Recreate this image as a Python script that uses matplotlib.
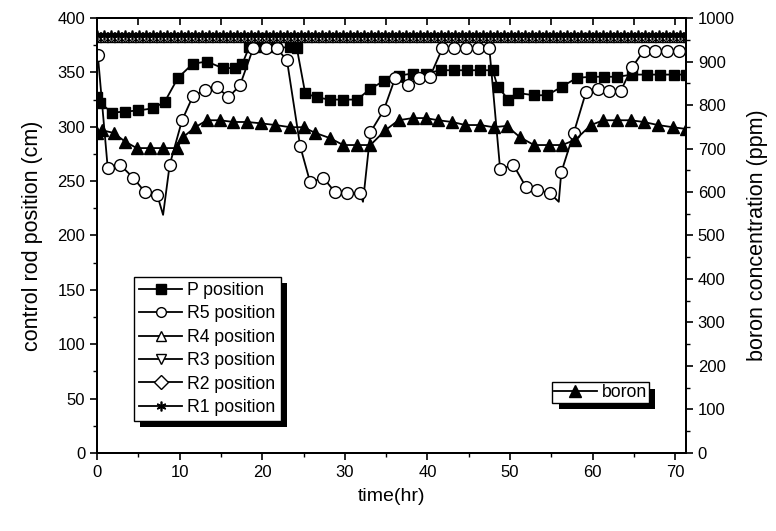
import numpy as np
import matplotlib
matplotlib.use("Agg")
import matplotlib.pyplot as plt
from matplotlib import patheffects as pe
from matplotlib.ticker import MultipleLocator

plt.rcParams['font.family'] = ['Liberation Sans', 'DejaVu Sans']

# ---------------- data ----------------
t_P = [0, 0.4, 1.8, 3.4, 5.0, 6.8, 8.2, 9.8, 11.6, 13.3, 15.2, 16.7, 17.6, 18.4, 20.0, 21.7,
       23.4, 24.2, 25.2, 26.6, 28.2, 29.8, 31.5, 33.1, 34.7, 36.5, 38.2, 39.8, 41.6, 43.2,
       44.8, 46.4, 47.9, 48.5, 49.8, 51.0, 52.9, 54.5, 56.3, 58.1, 59.8, 61.4, 63.0, 64.8,
       66.6, 68.2, 69.8, 71.3]
P_pos = [327, 322, 313, 314, 315, 317, 323, 345, 358, 360, 354, 354, 358, 373, 373, 373,
         373, 372, 331, 327, 325, 325, 325, 335, 342, 347, 349, 349, 352, 352,
         352, 352, 352, 337, 325, 331, 329, 329, 337, 345, 346, 346, 346, 348,
         348, 348, 348, 348]

t_R5 = [0.1, 1.3, 2.8, 4.4, 5.8, 7.3, 8.0, 8.8, 10.3, 11.6, 13.1, 14.5, 15.9, 17.3, 18.9,
        20.4, 21.8, 23.0, 24.6, 25.8, 27.4, 28.8, 30.3, 31.8, 32.2, 33.1, 34.7, 36.1, 37.6,
        39.0, 40.3, 41.8, 43.2, 44.7, 46.1, 47.5, 48.8, 50.4, 51.9, 53.3, 54.8, 55.9, 56.2,
        57.7, 59.2, 60.6, 62.0, 63.4, 64.8, 66.2, 67.6, 69.0, 70.5, 71.3]
R5_pos = [366, 262, 265, 253, 240, 237, 219, 265, 306, 328, 334, 337, 327, 338, 372,
          372, 372, 361, 282, 249, 253, 240, 239, 239, 231, 295, 315, 345, 338,
          345, 346, 372, 372, 372, 372, 372, 261, 265, 245, 242, 239, 231, 258,
          294, 332, 335, 333, 333, 355, 370, 370, 370, 370, 370]
R5_nomark = [6, 24, 41, 53]

t_B = [0, 0.6, 2.0, 3.4, 4.8, 6.4, 8.0, 9.7, 10.4, 11.9, 13.3, 14.9, 16.5, 18.2, 19.8, 21.6,
       23.4, 25.0, 26.4, 28.2, 29.8, 31.5, 33.1, 34.9, 36.5, 38.2, 39.8, 41.3, 43.0, 44.6,
       46.4, 48.0, 49.6, 51.2, 52.9, 54.7, 56.3, 57.9, 59.8, 61.3, 63.0, 64.6, 66.2, 67.9,
       69.7, 71.3]
boron = [735, 742, 736, 716, 701, 701, 701, 701, 726, 749, 765, 765, 761, 761, 758, 754,
         749, 749, 736, 724, 708, 708, 708, 742, 765, 770, 770, 765, 761, 754,
         754, 749, 752, 726, 708, 708, 708, 720, 754, 765, 765, 765, 761, 754,
         749, 745]

# rods fully withdrawn (constant), sampled at the marker spacing seen in the picture
t_top = list(np.arange(0.0, 71.4, 0.85))
R4_level, R3_level, R2_level, R1_level = 382.0, 382.5, 383.0, 384.0
R4_pos = [R4_level] * len(t_top)
R3_pos = [R3_level] * len(t_top)
R2_pos = [R2_level] * len(t_top)
R1_pos = [R1_level] * len(t_top)

# ---------------- plot ----------------
fig = plt.figure(figsize=(7.76, 5.31), dpi=100)
ax = fig.add_axes([0.125, 0.147, 0.759, 0.819])
ax2 = ax.twinx()

lw = 1.3
kw = dict(color='black', lw=lw, mec='black')
h_P, = ax.plot(t_P, P_pos, marker='s', ms=7, mfc='black', label='P position', **kw)
mk = [i for i in range(len(t_R5)) if i not in R5_nomark]
h_R5, = ax.plot(t_R5, R5_pos, marker='o', ms=8.5, mfc='white', markevery=mk,
                label='R5 position', **kw)
h_R4, = ax.plot(t_top, R4_pos, marker='^', ms=6, mfc='white', label='R4 position', **kw)
h_R3, = ax.plot(t_top, R3_pos, marker='v', ms=6, mfc='white', label='R3 position', **kw)
h_R2, = ax.plot(t_top, R2_pos, marker='D', ms=5, mfc='white', label='R2 position', **kw)
h_R1, = ax.plot(t_top, R1_pos, marker=(6, 2, 0), ms=7, mew=1.2, label='R1 position', **kw)

h_B, = ax2.plot(t_B, boron, marker='^', ms=8, mfc='black', label='boron', **kw)

ax.set_xlim(0, 71.3)
ax.set_ylim(0, 400)
ax2.set_ylim(0, 1000)

ax.xaxis.set_major_locator(MultipleLocator(10))
ax.xaxis.set_minor_locator(MultipleLocator(5))
ax.yaxis.set_major_locator(MultipleLocator(50))
ax.yaxis.set_minor_locator(MultipleLocator(25))
ax2.yaxis.set_major_locator(MultipleLocator(100))
ax2.yaxis.set_minor_locator(MultipleLocator(50))

fs_tick = 12
ax.tick_params(axis='both', which='major', direction='out', length=5, width=1.2,
               labelsize=fs_tick, right=False)
ax.tick_params(axis='both', which='minor', direction='out', length=3, width=1.0,
               right=False)
ax.tick_params(axis='x', which='both', top=False)
ax2.tick_params(axis='y', which='major', direction='out', length=5, width=1.2,
                labelsize=fs_tick)
ax2.tick_params(axis='y', which='minor', direction='out', length=3, width=1.0)
secx = ax.secondary_xaxis('top')
secx.xaxis.set_major_locator(MultipleLocator(5))
secx.tick_params(direction='in', length=5, width=1.2, labeltop=False)

for a in (ax, ax2):
    for s in a.spines.values():
        s.set_linewidth(1.4)
secx.spines['top'].set_linewidth(1.4)

ax.set_xlabel('time(hr)', fontsize=14, labelpad=6)
ax.set_ylabel('control rod position (cm)', fontsize=15.5, labelpad=10)
ax2.set_ylabel('boron concentration (ppm)', fontsize=15.5, labelpad=9)

shadow = [pe.SimplePatchShadow(offset=(4.5, -4.5), shadow_rgbFace='black', alpha=1.0),
          pe.Normal()]
fs_leg = 12.7
leg1 = ax.legend(handles=[h_P, h_R5, h_R4, h_R3, h_R2, h_R1], loc='upper left',
                 bbox_to_anchor=(0.063, 0.405), fontsize=fs_leg, frameon=True,
                 fancybox=False, edgecolor='black', framealpha=1, borderpad=0.3,
                 labelspacing=0.36, handlelength=2.4, handletextpad=0.3,
                 borderaxespad=0)
leg1.get_frame().set_linewidth(1.0)
leg1.get_frame().set_path_effects(shadow)
for h in leg1.legend_handles:
    h.set_markersize(7)

leg2 = ax2.legend(handles=[h_B], loc='lower right', bbox_to_anchor=(0.937, 0.115),
                  fontsize=fs_leg, frameon=True, fancybox=False, edgecolor='black',
                  framealpha=1, borderpad=0.1, handlelength=2.4, handletextpad=0.3,
                  borderaxespad=0)
leg2.get_frame().set_linewidth(1.0)
leg2.get_frame().set_path_effects(shadow)

fig.savefig('out.png', dpi=100)
